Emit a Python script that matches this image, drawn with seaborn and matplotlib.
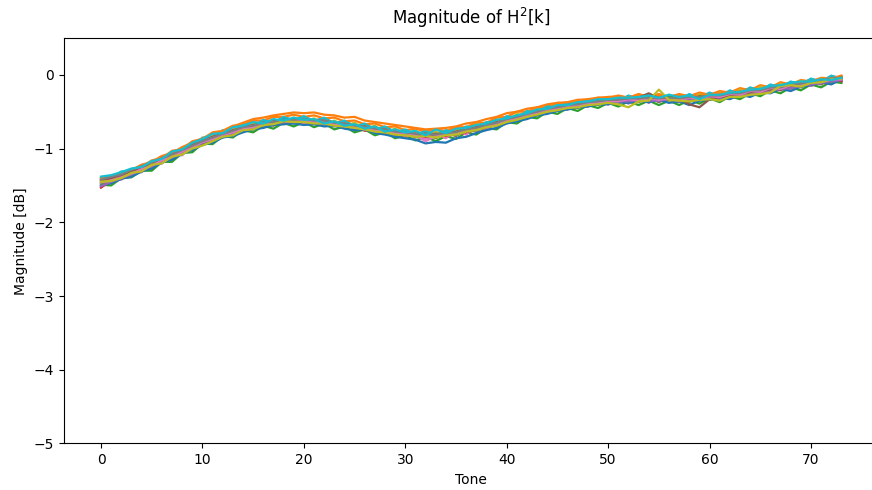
import numpy as np
import pandas as pd
import matplotlib
matplotlib.use("Agg")
import matplotlib.pyplot as plt
import seaborn as sns

tones = list(range(74))

h_01 = [-1.40, -1.41, -1.33, -1.32, -1.23, -1.21, -1.11, -1.09, -0.99, -0.96,
        -0.86, -0.85, -0.76, -0.76, -0.68, -0.69, -0.62, -0.64, -0.58, -0.61,
        -0.57, -0.62, -0.59, -0.65, -0.63, -0.69, -0.67, -0.73, -0.71, -0.77,
        -0.75, -0.80, -0.77, -0.81, -0.76, -0.78, -0.71, -0.72, -0.65, -0.65,
        -0.57, -0.57, -0.50, -0.50, -0.43, -0.44, -0.38, -0.40, -0.34, -0.36,
        -0.31, -0.34, -0.29, -0.32, -0.28, -0.32, -0.28, -0.32, -0.27, -0.30,
        -0.25, -0.28, -0.22, -0.24, -0.18, -0.20, -0.14, -0.16, -0.10, -0.12,
        -0.06, -0.08, -0.02, -0.04]
h_02 = [-1.43, -1.38, -1.35, -1.28, -1.25, -1.16, -1.13, -1.03, -1.01, -0.90,
        -0.87, -0.78, -0.76, -0.69, -0.68, -0.62, -0.62, -0.57, -0.57, -0.54,
        -0.57, -0.55, -0.59, -0.58, -0.63, -0.62, -0.67, -0.66, -0.71, -0.70,
        -0.75, -0.73, -0.77, -0.74, -0.76, -0.71, -0.71, -0.65, -0.65, -0.58,
        -0.57, -0.50, -0.50, -0.44, -0.44, -0.38, -0.39, -0.34, -0.35, -0.31,
        -0.32, -0.28, -0.31, -0.26, -0.30, -0.26, -0.30, -0.26, -0.29, -0.24,
        -0.27, -0.22, -0.24, -0.18, -0.21, -0.14, -0.17, -0.10, -0.13, -0.07,
        -0.09, -0.04, -0.05, -0.01]
h_03 = [-1.49, -1.50, -1.40, -1.39, -1.30, -1.30, -1.18, -1.18, -1.06, -1.05,
        -0.93, -0.94, -0.83, -0.85, -0.75, -0.78, -0.69, -0.73, -0.65, -0.70,
        -0.64, -0.71, -0.66, -0.74, -0.70, -0.78, -0.74, -0.82, -0.78, -0.86,
        -0.82, -0.89, -0.84, -0.90, -0.83, -0.87, -0.78, -0.81, -0.72, -0.74,
        -0.64, -0.66, -0.57, -0.59, -0.50, -0.53, -0.45, -0.49, -0.41, -0.45,
        -0.38, -0.43, -0.36, -0.41, -0.35, -0.41, -0.35, -0.41, -0.34, -0.39,
        -0.32, -0.37, -0.29, -0.33, -0.25, -0.29, -0.21, -0.25, -0.17, -0.21,
        -0.13, -0.17, -0.09, -0.11]
h_04 = [-1.47, -1.46, -1.38, -1.36, -1.31, -1.22, -1.19, -1.12, -1.05, -1.01,
        -0.92, -0.90, -0.80, -0.80, -0.74, -0.70, -0.70, -0.65, -0.66, -0.61,
        -0.65, -0.63, -0.68, -0.65, -0.71, -0.69, -0.76, -0.72, -0.79, -0.77,
        -0.84, -0.80, -0.86, -0.81, -0.85, -0.78, -0.80, -0.72, -0.73, -0.66,
        -0.65, -0.58, -0.58, -0.51, -0.51, -0.45, -0.46, -0.41, -0.42, -0.37,
        -0.39, -0.35, -0.38, -0.33, -0.37, -0.32, -0.37, -0.32, -0.36, -0.30,
        -0.33, -0.27, -0.30, -0.23, -0.27, -0.19, -0.23, -0.15, -0.19, -0.11,
        -0.15, -0.08, -0.10, -0.05]
h_05 = [-1.52, -1.44, -1.42, -1.33, -1.32, -1.21, -1.20, -1.09, -1.09, -0.96,
        -0.95, -0.84, -0.85, -0.75, -0.77, -0.68, -0.71, -0.63, -0.67, -0.60,
        -0.66, -0.61, -0.67, -0.64, -0.71, -0.68, -0.75, -0.71, -0.79, -0.76,
        -0.83, -0.78, -0.85, -0.79, -0.84, -0.76, -0.79, -0.70, -0.73, -0.63,
        -0.65, -0.55, -0.58, -0.48, -0.52, -0.43, -0.47, -0.38, -0.43, -0.34,
        -0.40, -0.32, -0.39, -0.31, -0.38, -0.30, -0.37, -0.30, -0.36, -0.28,
        -0.34, -0.26, -0.31, -0.22, -0.27, -0.18, -0.23, -0.14, -0.19, -0.10,
        -0.15, -0.07, -0.11, -0.03]
h_06 = [-1.41, -1.43, -1.36, -1.36, -1.26, -1.27, -1.14, -1.15, -1.02, -1.02,
        -0.89, -0.90, -0.79, -0.81, -0.71, -0.74, -0.65, -0.69, -0.61, -0.66,
        -0.60, -0.67, -0.62, -0.70, -0.66, -0.74, -0.70, -0.78, -0.74, -0.82,
        -0.78, -0.85, -0.80, -0.86, -0.79, -0.83, -0.74, -0.77, -0.68, -0.70,
        -0.60, -0.62, -0.53, -0.55, -0.46, -0.49, -0.41, -0.45, -0.37, -0.41,
        -0.34, -0.39, -0.32, -0.37, -0.31, -0.37, -0.31, -0.37, -0.30, -0.35,
        -0.28, -0.33, -0.25, -0.29, -0.21, -0.25, -0.17, -0.21, -0.13, -0.17,
        -0.09, -0.13, -0.05, -0.09]
h_07 = [-1.48, -1.40, -1.41, -1.31, -1.31, -1.19, -1.20, -1.07, -1.08, -0.95,
        -0.94, -0.83, -0.84, -0.74, -0.76, -0.67, -0.70, -0.62, -0.66, -0.59,
        -0.66, -0.60, -0.68, -0.63, -0.71, -0.66, -0.75, -0.70, -0.80, -0.74,
        -0.84, -0.77, -0.87, -0.78, -0.86, -0.75, -0.81, -0.68, -0.74, -0.62,
        -0.66, -0.54, -0.59, -0.47, -0.52, -0.41, -0.47, -0.37, -0.43, -0.33,
        -0.40, -0.31, -0.38, -0.29, -0.37, -0.29, -0.37, -0.29, -0.36, -0.27,
        -0.34, -0.25, -0.31, -0.21, -0.27, -0.17, -0.23, -0.13, -0.19, -0.09,
        -0.15, -0.06, -0.11, -0.02]
h_08 = [-1.44, -1.45, -1.37, -1.37, -1.29, -1.24, -1.15, -1.14, -1.03, -0.99,
        -0.90, -0.88, -0.80, -0.79, -0.72, -0.73, -0.66, -0.68, -0.62, -0.65,
        -0.61, -0.66, -0.63, -0.68, -0.67, -0.73, -0.70, -0.77, -0.74, -0.80,
        -0.78, -0.84, -0.80, -0.85, -0.79, -0.82, -0.74, -0.76, -0.68, -0.69,
        -0.61, -0.61, -0.54, -0.53, -0.47, -0.48, -0.42, -0.44, -0.38, -0.40,
        -0.35, -0.38, -0.33, -0.36, -0.32, -0.36, -0.32, -0.36, -0.31, -0.34,
        -0.29, -0.32, -0.26, -0.28, -0.22, -0.24, -0.18, -0.20, -0.14, -0.16,
        -0.10, -0.12, -0.06, -0.08]
h_09 = [-1.50, -1.42, -1.40, -1.30, -1.30, -1.18, -1.18, -1.06, -1.07, -0.94,
        -0.93, -0.82, -0.83, -0.73, -0.75, -0.66, -0.69, -0.61, -0.65, -0.58,
        -0.64, -0.59, -0.66, -0.62, -0.69, -0.65, -0.73, -0.69, -0.78, -0.73,
        -0.82, -0.76, -0.84, -0.77, -0.83, -0.74, -0.78, -0.67, -0.71, -0.61,
        -0.63, -0.53, -0.56, -0.46, -0.50, -0.40, -0.45, -0.36, -0.41, -0.32,
        -0.38, -0.30, -0.37, -0.28, -0.36, -0.28, -0.36, -0.28, -0.35, -0.26,
        -0.33, -0.24, -0.30, -0.20, -0.26, -0.16, -0.22, -0.12, -0.18, -0.08,
        -0.14, -0.05, -0.10, -0.02]
h_10 = [-1.39, -1.40, -1.31, -1.31, -1.22, -1.23, -1.11, -1.12, -0.99, -1.00,
        -0.85, -0.87, -0.75, -0.78, -0.67, -0.71, -0.61, -0.66, -0.57, -0.63,
        -0.56, -0.64, -0.58, -0.67, -0.62, -0.71, -0.66, -0.75, -0.70, -0.79,
        -0.74, -0.82, -0.76, -0.83, -0.75, -0.80, -0.70, -0.74, -0.64, -0.67,
        -0.56, -0.59, -0.49, -0.52, -0.42, -0.46, -0.37, -0.42, -0.33, -0.38,
        -0.30, -0.36, -0.28, -0.34, -0.27, -0.34, -0.27, -0.34, -0.26, -0.32,
        -0.24, -0.30, -0.21, -0.26, -0.17, -0.22, -0.13, -0.18, -0.09, -0.14,
        -0.05, -0.10, -0.01, -0.06]
h_11 = [-1.50, -1.47, -1.41, -1.38, -1.31, -1.27, -1.19, -1.15, -1.07, -1.02,
        -0.95, -0.92, -0.85, -0.83, -0.78, -0.74, -0.72, -0.68, -0.67, -0.66,
        -0.68, -0.67, -0.70, -0.69, -0.73, -0.75, -0.74, -0.79, -0.81, -0.84,
        -0.86, -0.88, -0.93, -0.91, -0.92, -0.86, -0.84, -0.79, -0.75, -0.72,
        -0.66, -0.63, -0.60, -0.55, -0.53, -0.49, -0.47, -0.44, -0.43, -0.40,
        -0.40, -0.37, -0.38, -0.35, -0.37, -0.34, -0.38, -0.36, -0.41, -0.35,
        -0.34, -0.31, -0.33, -0.27, -0.30, -0.24, -0.25, -0.19, -0.22, -0.16,
        -0.14, -0.10, -0.13, -0.06]
h_12 = [-1.40, -1.37, -1.33, -1.29, -1.22, -1.18, -1.10, -1.06, -0.98, -0.92,
        -0.86, -0.80, -0.76, -0.70, -0.65, -0.60, -0.58, -0.55, -0.53, -0.51,
        -0.52, -0.51, -0.54, -0.55, -0.58, -0.57, -0.62, -0.64, -0.66, -0.68,
        -0.70, -0.72, -0.74, -0.73, -0.72, -0.70, -0.66, -0.64, -0.60, -0.57,
        -0.52, -0.50, -0.46, -0.44, -0.40, -0.38, -0.37, -0.34, -0.33, -0.31,
        -0.30, -0.29, -0.31, -0.27, -0.29, -0.28, -0.30, -0.27, -0.30, -0.28,
        -0.27, -0.25, -0.24, -0.22, -0.20, -0.19, -0.16, -0.15, -0.13, -0.10,
        -0.09, -0.06, -0.05, -0.02]
h_13 = [-1.47, -1.44, -1.37, -1.35, -1.27, -1.24, -1.15, -1.12, -1.03, -0.99,
        -0.93, -0.88, -0.82, -0.79, -0.74, -0.72, -0.68, -0.66, -0.64, -0.63,
        -0.61, -0.64, -0.66, -0.65, -0.69, -0.71, -0.70, -0.75, -0.77, -0.80,
        -0.81, -0.83, -0.80, -0.85, -0.80, -0.81, -0.75, -0.74, -0.69, -0.67,
        -0.61, -0.59, -0.54, -0.52, -0.47, -0.46, -0.42, -0.42, -0.38, -0.38,
        -0.35, -0.36, -0.32, -0.35, -0.30, -0.34, -0.28, -0.35, -0.37, -0.29,
        -0.31, -0.28, -0.30, -0.24, -0.26, -0.20, -0.22, -0.16, -0.18, -0.12,
        -0.12, -0.08, -0.10, -0.04]
h_14 = [-1.53, -1.43, -1.40, -1.32, -1.30, -1.21, -1.18, -1.09, -1.06, -0.96,
        -0.92, -0.85, -0.83, -0.76, -0.74, -0.69, -0.68, -0.63, -0.64, -0.60,
        -0.63, -0.62, -0.65, -0.66, -0.67, -0.70, -0.73, -0.72, -0.78, -0.77,
        -0.82, -0.80, -0.84, -0.81, -0.83, -0.78, -0.78, -0.72, -0.71, -0.65,
        -0.63, -0.57, -0.56, -0.50, -0.49, -0.44, -0.44, -0.40, -0.40, -0.36,
        -0.37, -0.34, -0.35, -0.32, -0.34, -0.31, -0.33, -0.32, -0.31, -0.33,
        -0.29, -0.30, -0.26, -0.28, -0.22, -0.24, -0.18, -0.20, -0.14, -0.15,
        -0.10, -0.11, -0.06, -0.08]
h_15 = [-1.51, -1.45, -1.40, -1.35, -1.29, -1.24, -1.17, -1.12, -1.05, -0.99,
        -0.92, -0.88, -0.82, -0.79, -0.74, -0.72, -0.67, -0.66, -0.64, -0.64,
        -0.63, -0.65, -0.64, -0.68, -0.68, -0.72, -0.72, -0.76, -0.77, -0.80,
        -0.80, -0.83, -0.82, -0.84, -0.80, -0.80, -0.77, -0.73, -0.71, -0.66,
        -0.63, -0.58, -0.56, -0.51, -0.50, -0.46, -0.44, -0.42, -0.41, -0.38,
        -0.38, -0.36, -0.36, -0.34, -0.35, -0.35, -0.33, -0.36, -0.34, -0.33,
        -0.32, -0.31, -0.29, -0.27, -0.26, -0.23, -0.22, -0.19, -0.18, -0.15,
        -0.13, -0.11, -0.09, -0.07]
h_16 = [-1.44, -1.40, -1.37, -1.31, -1.27, -1.20, -1.15, -1.08, -1.03, -0.95,
        -0.90, -0.84, -0.80, -0.75, -0.72, -0.68, -0.66, -0.63, -0.62, -0.60,
        -0.61, -0.62, -0.63, -0.65, -0.67, -0.69, -0.71, -0.73, -0.75, -0.77,
        -0.79, -0.80, -0.81, -0.80, -0.80, -0.77, -0.74, -0.71, -0.68, -0.64,
        -0.60, -0.56, -0.53, -0.49, -0.46, -0.43, -0.41, -0.39, -0.37, -0.35,
        -0.34, -0.33, -0.32, -0.31, -0.25, -0.32, -0.33, -0.32, -0.40, -0.44,
        -0.33, -0.30, -0.29, -0.26, -0.24, -0.22, -0.20, -0.17, -0.15, -0.13,
        -0.11, -0.08, -0.06, -0.04]
h_17 = [-1.46, -1.43, -1.39, -1.34, -1.28, -1.23, -1.16, -1.11, -1.04, -0.98,
        -0.91, -0.87, -0.81, -0.78, -0.73, -0.71, -0.66, -0.65, -0.62, -0.63,
        -0.62, -0.64, -0.63, -0.67, -0.67, -0.71, -0.71, -0.75, -0.76, -0.79,
        -0.79, -0.82, -0.90, -0.83, -0.79, -0.80, -0.75, -0.74, -0.69, -0.67,
        -0.61, -0.59, -0.54, -0.52, -0.47, -0.46, -0.42, -0.42, -0.38, -0.38,
        -0.35, -0.36, -0.33, -0.35, -0.32, -0.34, -0.32, -0.34, -0.31, -0.32,
        -0.29, -0.30, -0.26, -0.27, -0.22, -0.23, -0.18, -0.19, -0.14, -0.14,
        -0.10, -0.10, -0.06, -0.06]
h_18 = [-1.42, -1.38, -1.35, -1.29, -1.24, -1.19, -1.13, -1.08, -1.02, -0.96,
        -0.90, -0.85, -0.80, -0.76, -0.71, -0.69, -0.65, -0.64, -0.61, -0.61,
        -0.60, -0.62, -0.62, -0.65, -0.66, -0.69, -0.70, -0.73, -0.74, -0.77,
        -0.78, -0.80, -0.80, -0.81, -0.79, -0.78, -0.74, -0.72, -0.68, -0.65,
        -0.60, -0.57, -0.53, -0.50, -0.46, -0.44, -0.41, -0.40, -0.37, -0.36,
        -0.34, -0.34, -0.32, -0.32, -0.31, -0.32, -0.31, -0.32, -0.30, -0.30,
        -0.28, -0.28, -0.25, -0.25, -0.21, -0.21, -0.17, -0.17, -0.13, -0.12,
        -0.09, -0.08, -0.05, -0.04]
h_19 = [-1.45, -1.44, -1.40, -1.33, -1.31, -1.22, -1.20, -1.11, -1.08, -1.00,
        -0.96, -0.90, -0.84, -0.82, -0.75, -0.74, -0.68, -0.67, -0.63, -0.64,
        -0.64, -0.66, -0.66, -0.69, -0.70, -0.72, -0.74, -0.77, -0.78, -0.81,
        -0.82, -0.84, -0.83, -0.85, -0.82, -0.81, -0.77, -0.75, -0.71, -0.69,
        -0.64, -0.61, -0.57, -0.54, -0.50, -0.48, -0.45, -0.44, -0.41, -0.40,
        -0.38, -0.40, -0.44, -0.36, -0.35, -0.20, -0.34, -0.35, -0.36, -0.34,
        -0.33, -0.35, -0.30, -0.30, -0.27, -0.26, -0.24, -0.15, -0.14, -0.16,
        -0.11, -0.10, -0.06, -0.05]
h_20 = [-1.38, -1.36, -1.32, -1.27, -1.25, -1.17, -1.14, -1.04, -1.01, -0.92,
        -0.87, -0.80, -0.79, -0.71, -0.69, -0.64, -0.66, -0.60, -0.62, -0.58,
        -0.61, -0.60, -0.66, -0.63, -0.69, -0.67, -0.73, -0.70, -0.77, -0.74,
        -0.78, -0.76, -0.82, -0.74, -0.79, -0.73, -0.72, -0.68, -0.66, -0.61,
        -0.59, -0.55, -0.52, -0.47, -0.46, -0.41, -0.41, -0.37, -0.36, -0.33,
        -0.33, -0.31, -0.31, -0.30, -0.28, -0.31, -0.27, -0.30, -0.28, -0.33,
        -0.27, -0.27, -0.24, -0.23, -0.20, -0.19, -0.15, -0.14, -0.11, -0.09,
        -0.09, -0.06, -0.07, -0.04]

series = [h_01, h_02, h_03, h_04, h_05, h_06, h_07, h_08, h_09, h_10,
          h_11, h_12, h_13, h_14, h_15, h_16, h_17, h_18, h_19, h_20]

rows = []
for i, vals in enumerate(series):
    for t, v in zip(tones, vals):
        rows.append({"Tone": t, "Magnitude": v, "run": i})
df = pd.DataFrame(rows)

fig = plt.figure(figsize=(8.72, 4.90), dpi=100)
ax = fig.add_axes([0.0734, 0.0949, 0.934, 0.8276])

pal = sns.color_palette("tab10", len(series))
sns.lineplot(data=df, x="Tone", y="Magnitude", hue="run", palette=pal,
             legend=False, linewidth=1.6, ax=ax, estimator=None)

ax.set_xlim(-3.65, 76.65)
ax.set_ylim(-5, 0.5)
ax.set_xticks([0, 10, 20, 30, 40, 50, 60, 70])
ax.set_yticks([-5, -4, -3, -2, -1, 0])
ax.set_xlabel("Tone")
ax.set_ylabel("Magnitude [dB]")
ax.set_title("Magnitude of H$^2$[k]", pad=10)

fig.savefig("out.png", dpi=100)
